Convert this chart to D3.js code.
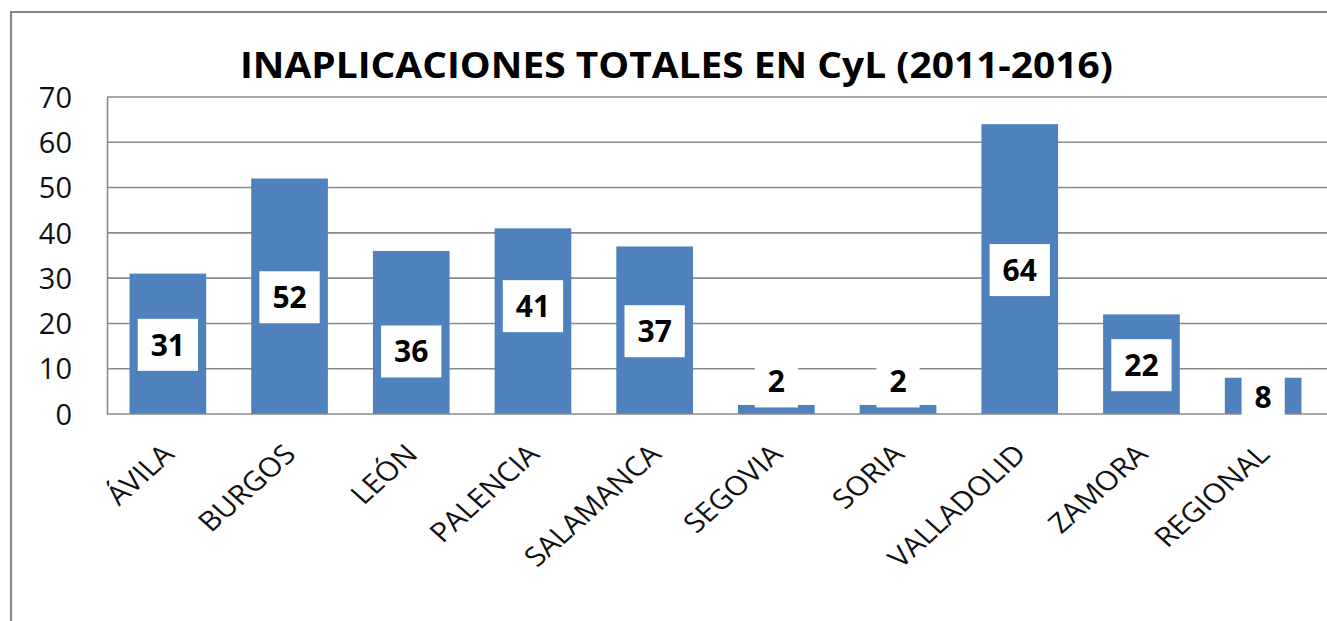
<!DOCTYPE html>
<html><head><meta charset="utf-8">
<script src="https://cdn.jsdelivr.net/npm/d3@7"></script>
<style>html,body{margin:0;padding:0;background:#fff;}svg{display:block;}</style>
</head><body>
<svg id="c" width="1327" height="621"></svg>
<script>
const categories = ["ÁVILA","BURGOS","LEÓN","PALENCIA","SALAMANCA","SEGOVIA","SORIA","VALLADOLID","ZAMORA","REGIONAL"];
const values = [31,52,36,41,37,2,2,64,22,8];
const yTicks = [0,10,20,30,40,50,60,70];
const title = "INAPLICACIONES TOTALES EN CyL (2011-2016)";

const svg = d3.select("#c");
const W = 1327, H = 621;
const L = 107, R = 1324, T = 97, B = 414;
const font = "'Open Sans', 'DejaVu Sans', sans-serif";
const gray = "#8a8a8a";
const barColor = "#4F81BD";

// outer border
svg.append("path").attr("d", `M11,${H+5} L11,12 L${W+5},12`)
  .attr("fill","none").attr("stroke","#868686").attr("stroke-width",2.2);

const x = d3.scaleBand().domain(categories).range([L,R]).paddingInner(0.37).paddingOuter(0.185);
const y = d3.scaleLinear().domain([0,70]).range([B,T]);

// gridlines
svg.append("g").selectAll("line").data(yTicks.filter(d=>d>0)).join("line")
  .attr("x1",L).attr("x2",W).attr("y1",d=>y(d)).attr("y2",d=>y(d))
  .attr("stroke",gray).attr("stroke-width",1.6);

// y axis
const yAxis = svg.append("g").attr("transform",`translate(${L},0)`)
  .call(d3.axisLeft(y).tickValues(yTicks).tickSize(0).tickPadding(35));
yAxis.select(".domain").attr("stroke",gray).attr("stroke-width",1.6);
yAxis.selectAll("text").attr("font-family",font).attr("font-size",29).attr("fill","#111")
  .attr("dy","0.35em");

// bars
svg.append("g").selectAll("rect").data(categories).join("rect")
  .attr("x",d=>x(d)).attr("width",x.bandwidth())
  .attr("y",(d,i)=>y(values[i])).attr("height",(d,i)=>B-y(values[i]))
  .attr("fill",barColor);

// x axis
const xAxis = svg.append("g").attr("transform",`translate(0,${B})`)
  .call(d3.axisBottom(x).tickSize(0).tickFormat(""));
xAxis.select(".domain").attr("stroke",gray).attr("stroke-width",1.6).attr("d",`M${L},0H${W}`);

// category labels (slightly stretched horizontally like the original)
svg.append("g").selectAll("text").data(categories).join("text")
  .attr("transform",d=>`translate(${x(d)+x.bandwidth()/2+8},456) scale(1.12,1) rotate(-45)`)
  .attr("text-anchor","end").attr("font-family",font).attr("font-size",27).attr("fill","#111")
  .text(d=>d);

// data labels (manual nudges as placed in the original)
const labelNudge = {"LEÓN": 18, "PALENCIA": -16};
const lg = svg.append("g");
categories.forEach((c,i)=>{
  const v = values[i];
  const cx = x(c)+x.bandwidth()/2;
  const cy = (v < 5 ? y(v) - 23.5 : (y(v)+B)/2 + 1) + (labelNudge[c] || 0);
  const g = lg.append("g");
  const t = g.append("text").attr("x",cx).attr("y",cy).attr("dy","0.36em")
    .attr("text-anchor","middle").attr("font-family",font).attr("font-weight","bold")
    .attr("font-size",30).attr("fill","#000").text(v);
  const bb = t.node().getBBox();
  const bw = bb.width + 26;
  g.insert("rect","text").attr("x",cx-bw/2).attr("y",cy-26).attr("width",bw).attr("height",52)
    .attr("fill","#fff");
});

// title
const tt = svg.append("text").attr("x",676.5).attr("y",78).attr("text-anchor","middle")
  .attr("font-family",font).attr("font-weight","bold").attr("font-size",35).attr("fill","#000")
  .text(title);
const tw = tt.node().getComputedTextLength();
if (Math.abs(tw-873) > 4) tt.attr("textLength",873).attr("lengthAdjust","spacingAndGlyphs");
</script>
</body></html>
